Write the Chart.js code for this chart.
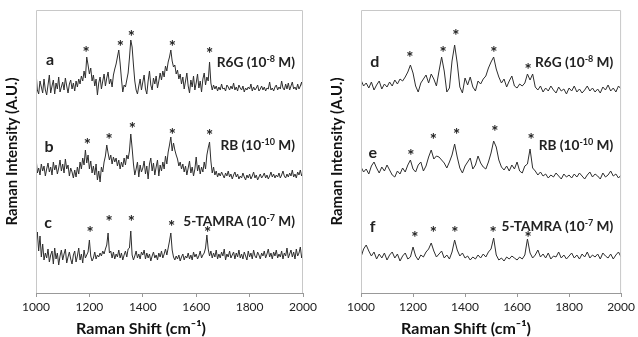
<!DOCTYPE html>
<html>
<head>
<meta charset="utf-8">
<script src="https://cdn.jsdelivr.net/npm/chart.js@4.4.1/dist/chart.umd.min.js"></script>
<style>
  html, body { margin: 0; padding: 0; background: #fff; }
  #wrap { position: relative; width: 638px; height: 337px; overflow: hidden; }
  .box { position: absolute; top: 0; height: 337px; }
  #boxL { left: 0; width: 320px; }
  #boxR { left: 325px; width: 313px; }
</style>
</head>
<body>
<div id="wrap">
  <div class="box" id="boxL"><canvas id="chartL"></canvas></div>
  <div class="box" id="boxR"><canvas id="chartR"></canvas></div>
</div>
<script>
// Raman shift grid (cm-1)
const shiftStart = 1000;
const stepLeft = 5;
const stepRight = 10;
const xTicks = [1000, 1200, 1400, 1600, 1800, 2000];

// left panel, spectra a, b, c (offset stacked, A.U.)
const seriesA = [
  221, 203, 199, 212, 206, 200, 214, 203, 198, 208,
  218, 200, 207, 213, 199, 210, 204, 216, 201, 206,
  211, 203, 215, 207, 200, 209, 213, 204, 210, 202,
  212, 206, 214, 209, 217, 212, 222, 215, 236, 228,
  219, 225, 212, 218, 207, 214, 198, 210, 216, 204,
  212, 219, 207, 215, 221, 209, 214, 206, 218, 224,
  229, 236, 243, 230, 214, 201, 208, 206, 213, 220,
  235, 253, 246, 228, 212, 203, 199, 207, 214, 203,
  211, 218, 204, 199, 212, 222, 208, 203, 215, 209,
  217, 205, 212, 220, 213, 222, 216, 227, 222, 231,
  236, 243, 232, 226, 228, 219, 223, 214, 219, 209,
  216, 204, 212, 220, 207, 200, 213, 206, 217, 203,
  210, 219, 205, 212, 201, 214, 220, 208, 216, 212,
  231, 210, 203, 208, 204, 207, 202, 206, 203, 209,
  204, 205, 202, 208, 206, 203, 207, 204, 210, 203,
  206, 202, 208, 205, 203, 207, 201, 205, 203, 206,
  204, 209, 202, 206, 203, 205, 208, 202, 204, 207,
  203, 206, 202, 205, 204, 211, 203, 205, 202, 206,
  208, 203, 206, 204, 212, 205, 203, 209, 204, 210,
  203, 207, 211, 204, 206, 203, 209, 204, 207, 211,
  204
];
const seriesB = [
  136, 120, 125, 118, 129, 122, 127, 117, 124, 130,
  121, 126, 118, 131, 123, 128, 119, 125, 133, 122,
  129, 120, 134, 124, 128, 117, 125, 121, 115, 123,
  116, 126, 119, 131, 124, 135, 128, 143, 130, 138,
  124, 132, 120, 127, 118, 129, 113, 122, 111, 126,
  121, 131, 137, 148, 140, 133, 138, 129, 136, 131,
  135, 127, 133, 124, 131, 126, 135, 128, 138, 134,
  142, 159, 145, 129, 118, 124, 131, 116, 128, 121,
  125, 132, 119, 127, 114, 129, 135, 122, 130, 118,
  126, 133, 117, 128, 122, 131, 124, 137, 129, 141,
  148, 156, 142, 150, 143, 138, 134, 127, 131, 124,
  129, 121, 127, 118, 125, 132, 120, 126, 117, 124,
  136, 122, 128, 119, 126, 121, 131, 124, 138, 145,
  151, 132, 120, 126, 118, 122, 116, 120, 117, 121,
  118, 115, 120, 117, 122, 116, 119, 114, 118, 121,
  116, 119, 114, 117, 115, 120, 116, 113, 118, 115,
  119, 114, 117, 121, 115, 118, 113, 116, 119, 115,
  117, 120, 115, 118, 114, 117, 121, 116, 119, 115,
  118, 116, 120, 115, 118, 122, 117, 115, 119, 116,
  120, 117, 123, 116, 119, 115, 121, 118, 123, 117,
  121
];
const seriesC = [
  48, 61, 42, 57, 36, 49, 33, 40, 35, 44,
  31, 38, 42, 29, 45, 34, 40, 28, 37, 43,
  33, 39, 44, 30, 36, 41, 34, 29, 38, 42,
  31, 37, 45, 33, 39, 30, 43, 35, 38, 41,
  53, 37, 32, 35, 41, 34, 38, 36, 40, 37,
  42, 39, 44, 48, 60, 40, 42, 35, 41, 34,
  39, 36, 43, 35, 40, 33, 38, 42, 36, 44,
  45, 62, 38, 33, 37, 42, 35, 39, 34, 41,
  38, 43, 34, 40, 35, 39, 32, 37, 41, 35,
  38, 33, 40, 36, 42, 35, 39, 44, 38, 45,
  52, 60, 43, 36, 33, 37, 34, 38, 32, 36,
  39, 33, 37, 35, 40, 34, 38, 33, 41, 36,
  39, 34, 37, 42, 35, 38, 40, 45, 58, 44,
  37, 42, 35, 40, 36, 43, 34, 39, 35, 41,
  37, 44, 33, 39, 36, 42, 35, 38, 41, 34,
  40, 36, 43, 35, 39, 34, 41, 37, 33, 42,
  36, 40, 34, 43, 37, 35, 41, 38, 34, 40,
  37, 42, 35, 39, 44, 36, 40, 34, 41, 37,
  43, 35, 39, 36, 42, 34, 40, 37, 45, 35,
  39, 43, 36, 41, 34, 44, 37, 40, 46, 35,
  41
];

// right panel, spectra d, e, f
const seriesD = [
  213, 207, 210, 205, 211, 203, 208, 212, 204, 209,
  206, 211, 207, 213, 209, 214, 212, 216, 221, 228,
  220, 207, 201, 210, 214, 218, 210, 219, 214, 207,
  222, 236, 222, 201, 205, 232, 248, 230, 206, 200,
  215, 208, 216, 206, 202, 212, 209, 214, 217, 225,
  231, 236, 224, 216, 210, 214, 206, 212, 217, 207,
  205, 209, 207, 210, 219, 213, 219, 206, 203, 207,
  201, 205, 202, 207, 203, 200, 206, 202, 204, 199,
  205, 202, 207, 201, 204, 200, 203, 207, 202, 205,
  201, 204, 200, 206, 203, 208, 202, 205, 201, 207,
  204
];
const seriesE = [
  126, 121, 124, 119, 127, 131, 125, 120, 126, 122,
  128, 123, 118, 116, 122, 119, 125, 121, 128, 133,
  124, 121, 128, 131, 122, 127, 136, 143, 134, 137,
  136, 133, 130, 125, 131, 138, 149, 136, 125, 120,
  127, 131, 135, 124, 128, 137, 130, 126, 124, 131,
  140, 152, 146, 133, 126, 123, 127, 122, 128, 124,
  131, 122, 120, 127, 129, 144, 125, 122, 118, 121,
  117, 119, 115, 118, 116, 120, 117, 114, 119, 116,
  118, 115, 119, 116, 120, 117, 114, 118, 121, 116,
  119, 117, 114, 120, 116, 118, 122, 117, 119, 115,
  118
];
const seriesF = [
  36, 44, 48, 42, 37, 41, 34, 39, 35, 40,
  33, 38, 41, 35, 39, 32, 37, 40, 34, 36,
  46, 37, 33, 38, 36, 41, 44, 50, 42, 36,
  39, 42, 35, 38, 34, 41, 53, 43, 37, 40,
  35, 37, 33, 36, 34, 38, 35, 39, 36, 41,
  44, 55, 38, 33, 35, 32, 36, 34, 37, 35,
  33, 36, 34, 38, 54, 40, 35, 38, 43, 36,
  39, 35, 40, 34, 37, 36, 41, 35, 38, 34,
  37, 40, 35, 38, 34, 39, 36, 41, 35, 38,
  36, 39, 34, 40, 37, 35, 39, 34, 38, 41,
  36
];

// marked bands (asterisks): shift and height
const starsA = [[1188, 243], [1316, 249], [1357, 259], [1511, 249], [1650, 242]];
const starsB = [[1192, 151], [1274, 156], [1361, 167], [1511, 161], [1650, 160]];
const starsC = [[1203, 63], [1274, 74], [1357, 74], [1508, 69], [1643, 63]];
const starsD = [[1188, 238], [1316, 243], [1365, 260], [1511, 243], [1643, 226]];
const starsE = [[1192, 140], [1278, 156], [1368, 161], [1515, 164], [1654, 156]];
const starsF = [[1207, 58], [1278, 63], [1361, 63], [1508, 63], [1643, 58]];

const lettersL = [['a', 1053, 233], ['b', 1049, 146], ['c', 1045, 70]];
const lettersR = [['d', 1053, 231], ['e', 1045, 140], ['f', 1045, 66]];

const samples = [
  [['R6G (10', 0], ['-8', 1], [' M)', 0]],
  [['RB (10', 0], ['-10', 1], [' M)', 0]],
  [['5-TAMRA (10', 0], ['-7', 1], [' M)', 0]]
];
const sampleYL = [230, 147, 71];
const sampleYR = [230, 147, 66];

const FONT = 'Lato, "Open Sans", sans-serif';

function toPoints(vals, step) {
  return vals.map((v, i) => ({ x: shiftStart + i * step, y: v }));
}

function drawSup(ctx, parts, xRight, yMid) {
  const big = 'bold 13.7px ' + FONT;
  const small = 'bold 9px ' + FONT;
  let w = 0;
  parts.forEach(p => { ctx.font = p[1] ? small : big; w += ctx.measureText(p[0]).width; });
  let x = xRight - w;
  ctx.textAlign = 'left';
  ctx.textBaseline = 'middle';
  parts.forEach(p => {
    ctx.font = p[1] ? small : big;
    ctx.fillText(p[0], x, p[1] ? yMid - 4 : yMid);
    x += ctx.measureText(p[0]).width;
  });
}

const marks = {
  id: 'marks',
  afterDatasetsDraw(chart, args, opts) {
    const ctx = chart.ctx, xs = chart.scales.x, ys = chart.scales.y;
    const a = chart.chartArea;
    ctx.save();
    // frame
    ctx.strokeStyle = '#c8c8c8';
    ctx.lineWidth = 1;
    ctx.beginPath();
    ctx.moveTo(a.left + 0.5, a.bottom);
    ctx.lineTo(a.left + 0.5, a.top + 0.5);
    ctx.lineTo(a.right - 0.5, a.top + 0.5);
    ctx.lineTo(a.right - 0.5, a.bottom);
    ctx.stroke();
    ctx.fillStyle = '#222';
    ctx.textAlign = 'center';
    ctx.textBaseline = 'middle';
    ctx.font = 'bold 17px ' + FONT;
    opts.stars.forEach(s => s.forEach(p => {
      ctx.fillText('*', xs.getPixelForValue(p[0]), ys.getPixelForValue(p[1]) + 4);
    }));
    ctx.font = 'bold 16px ' + FONT;
    opts.letters.forEach(l => {
      ctx.fillText(l[0], xs.getPixelForValue(l[1]), ys.getPixelForValue(l[2]));
    });
    samples.forEach((s, i) => {
      drawSup(ctx, s, xs.getPixelForValue(1970), ys.getPixelForValue(opts.sampleY[i]));
    });
    // x-axis title, set left of centre as in the figure
    ctx.fillStyle = '#111';
    ctx.textAlign = 'center';
    ctx.font = 'bold 16px ' + FONT;
    ctx.fillText('Raman Shift (cm\u207B\u00B9)', a.left + 105, 329);
    ctx.restore();
  }
};

function makeChart(id, series, step, stars, letters, sampleY, padRight) {
  return new Chart(document.getElementById(id), {
    type: 'line',
    data: {
      datasets: series.map(s => ({
        data: toPoints(s, step),
        borderColor: '#2e2e2e',
        borderWidth: 1,
        pointRadius: 0,
        fill: false,
        tension: 0
      }))
    },
    options: {
      responsive: true,
      maintainAspectRatio: false,
      animation: false,
      layout: { padding: { top: 10, right: padRight, left: 0, bottom: 0 } },
      plugins: {
        legend: { display: false },
        tooltip: { enabled: false },
        marks: { stars: stars, letters: letters, sampleY: sampleY }
      },
      scales: {
        x: {
          type: 'linear',
          min: 1000,
          max: 2000,
          afterBuildTicks: sc => { sc.ticks = xTicks.map(v => ({ value: v })); },
          afterFit: sc => { sc.height = 44; },
          grid: { drawOnChartArea: false, drawTicks: true, tickLength: 4, color: '#999' },
          border: { color: '#999' },
          ticks: {
            color: '#222',
            font: { family: FONT, size: 12 },
            padding: 3,
            maxRotation: 0,
            callback: v => String(v)
          },
          title: { display: false }
        },
        y: {
          min: 0,
          max: 283,
          afterFit: sc => { sc.width = 36; },
          grid: { display: false },
          border: { display: false },
          ticks: { display: false },
          title: {
            display: true,
            text: 'Raman Intensity (A.U.)',
            color: '#111',
            font: { family: FONT, size: 15, weight: 'bold' },
            padding: { top: 3, bottom: 0 }
          }
        }
      }
    },
    plugins: [marks]
  });
}

makeChart('chartL', [seriesA, seriesB, seriesC], stepLeft,
  [starsA, starsB, starsC], lettersL, sampleYL, 17);
makeChart('chartR', [seriesD, seriesE, seriesF], stepRight,
  [starsD, starsE, starsF], lettersR, sampleYR, 11);
</script>
</body>
</html>
